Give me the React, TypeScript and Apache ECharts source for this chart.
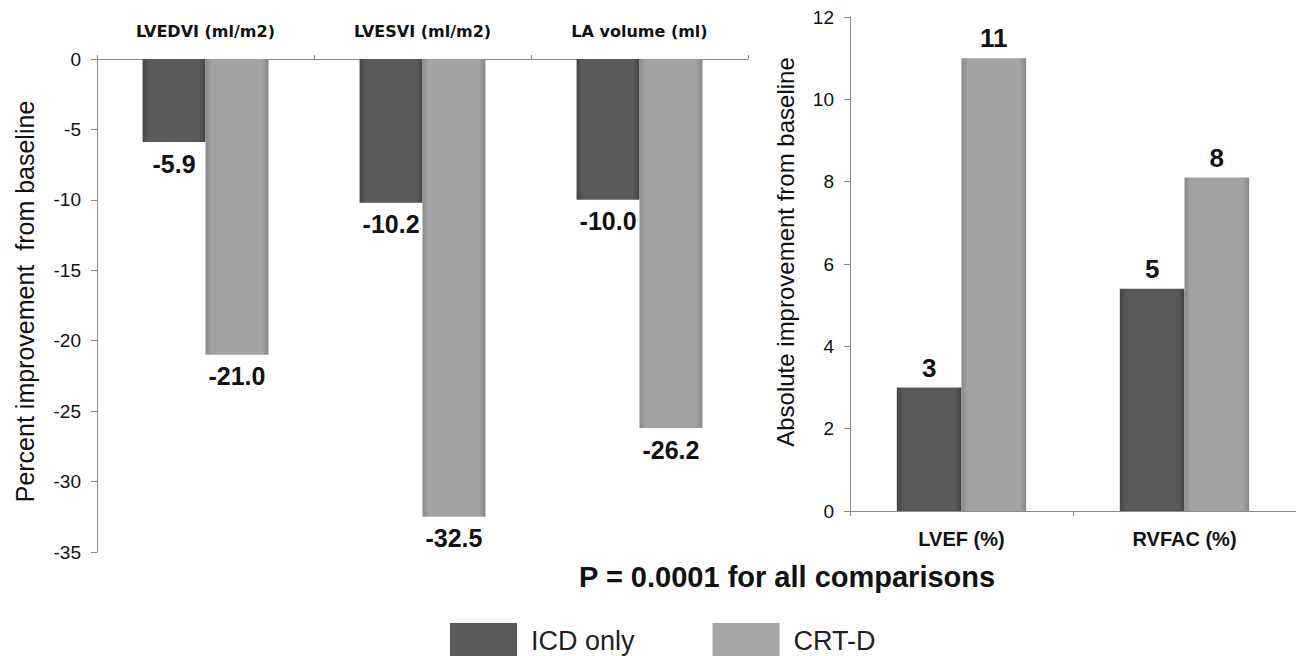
import React, { useEffect, useRef } from "react";
import * as echarts from "echarts";

// ---- Data ----
const leftCategories = ["LVEDVI (ml/m2)", "LVESVI (ml/m2)", "LA volume (ml)"];
const leftICD = [-5.9, -10.2, -10.0];
const leftCRT = [-21.0, -32.5, -26.2];

const rightCategories = ["LVEF (%)", "RVFAC (%)"];
const rightICD = [3, 5.4];
const rightCRT = [11, 8.1];

const seriesNames = ["ICD only", "CRT-D"];
const footnote = "P = 0.0001 for all comparisons";
const leftAxisName = "Percent improvement  from baseline";
const rightAxisName = "Absolute improvement from baseline";

const FONT = "'Liberation Sans', Arial, sans-serif";
const WIDE_FONT = "'DejaVu Sans', 'Liberation Sans', sans-serif";

const gradICD = new echarts.graphic.LinearGradient(0, 0, 1, 0, [
  { offset: 0, color: "#454545" },
  { offset: 0.1, color: "#5a5a5a" },
  { offset: 0.9, color: "#5a5a5a" },
  { offset: 1, color: "#434343" },
]);
const gradCRT = new echarts.graphic.LinearGradient(0, 0, 1, 0, [
  { offset: 0, color: "#8a8a8a" },
  { offset: 0.1, color: "#a3a3a3" },
  { offset: 0.9, color: "#a3a3a3" },
  { offset: 1, color: "#878787" },
]);

export default function App() {
  const ref = useRef<HTMLDivElement>(null);

  useEffect(() => {
    if (!ref.current) return;
    const chart = echarts.init(ref.current, undefined, { renderer: "svg" });

    const axisLineStyle = { color: "#8a8a8a", width: 1 };
    const valLabelLeft = {
      show: true,
      position: "bottom",
      distance: 9,
      fontSize: 25,
      fontWeight: "bold",
      fontFamily: FONT,
      color: "#111",
      formatter: (p: any) => Number(p.value).toFixed(1),
    };
    const valLabelRight = {
      show: true,
      position: "top",
      distance: 7,
      fontSize: 26,
      fontWeight: "bold",
      fontFamily: FONT,
      color: "#111",
      formatter: (p: any) => String(Math.round(Number(p.value))),
    };

    chart.setOption({
      animation: false,
      backgroundColor: "#ffffff",
      textStyle: { fontFamily: FONT },
      grid: [
        { left: 97, top: 59, width: 651, height: 493 },
        { left: 850, top: 17, width: 456, height: 494 },
      ],
      xAxis: [
        {
          type: "category",
          gridIndex: 0,
          position: "top",
          data: leftCategories,
          axisLine: { show: true, onZero: false, lineStyle: axisLineStyle },
          axisTick: { show: true, length: 4, lineStyle: axisLineStyle },
          axisLabel: {
            margin: 20,
            fontSize: 16,
            fontWeight: "bold",
            fontFamily: WIDE_FONT,
            color: "#111",
          },
          splitLine: { show: false },
        },
        {
          type: "category",
          gridIndex: 1,
          position: "bottom",
          data: rightCategories,
          axisLine: { show: true, lineStyle: axisLineStyle },
          axisTick: { show: true, length: 5, lineStyle: axisLineStyle },
          axisLabel: {
            margin: 18,
            fontSize: 20,
            fontWeight: "bold",
            fontFamily: FONT,
            color: "#111",
          },
          splitLine: { show: false },
        },
      ],
      yAxis: [
        {
          type: "value",
          gridIndex: 0,
          min: -35,
          max: 0,
          interval: 5,
          name: leftAxisName,
          nameLocation: "middle",
          nameGap: 60,
          nameTextStyle: {
            fontSize: 25,
            color: "#111",
            fontFamily: FONT,
            padding: [0, 0, 0, 8],
          },
          axisLine: { show: true, lineStyle: axisLineStyle },
          axisTick: { show: true, length: 6, lineStyle: axisLineStyle },
          axisLabel: { margin: 16, fontSize: 19, color: "#111", fontFamily: FONT },
          splitLine: { show: false },
        },
        {
          type: "value",
          gridIndex: 1,
          min: 0,
          max: 12,
          interval: 2,
          name: rightAxisName,
          nameLocation: "middle",
          nameGap: 53,
          nameTextStyle: {
            fontSize: 24,
            color: "#111",
            fontFamily: FONT,
            padding: [0, 0, 0, 24],
          },
          axisLine: { show: true, lineStyle: axisLineStyle },
          axisTick: { show: true, length: 6, lineStyle: axisLineStyle },
          axisLabel: { margin: 16, fontSize: 19, color: "#111", fontFamily: FONT },
          splitLine: { show: false },
        },
      ],
      legend: {
        left: 445,
        top: 618,
        itemWidth: 67,
        itemHeight: 36,
        itemGap: 78,
        icon: "rect",
        textStyle: {
          fontSize: 27,
          lineHeight: 26,
          color: "#222",
          fontFamily: FONT,
          padding: [0, 0, 0, 9],
        },
        data: [
          { name: seriesNames[0], itemStyle: { color: "#5a5a5a" } },
          { name: seriesNames[1], itemStyle: { color: "#a6a6a6" } },
        ],
      },
      graphic: [
        {
          type: "text",
          left: 579,
          top: 562,
          style: {
            text: footnote,
            fontSize: 29,
            fontWeight: "bold",
            fontFamily: FONT,
            fill: "#111",
          },
        },
      ],
      series: [
        {
          type: "bar",
          name: seriesNames[0],
          xAxisIndex: 0,
          yAxisIndex: 0,
          data: leftICD,
          barWidth: "29%",
          barGap: "0%",
          itemStyle: { color: gradICD },
          label: valLabelLeft,
        },
        {
          type: "bar",
          name: seriesNames[1],
          xAxisIndex: 0,
          yAxisIndex: 0,
          data: leftCRT,
          barWidth: "29%",
          barGap: "0%",
          itemStyle: { color: gradCRT },
          label: valLabelLeft,
        },
        {
          type: "bar",
          name: seriesNames[0],
          xAxisIndex: 1,
          yAxisIndex: 1,
          data: rightICD,
          barWidth: "29%",
          barGap: "0%",
          itemStyle: { color: gradICD },
          label: valLabelRight,
        },
        {
          type: "bar",
          name: seriesNames[1],
          xAxisIndex: 1,
          yAxisIndex: 1,
          data: rightCRT,
          barWidth: "29%",
          barGap: "0%",
          itemStyle: { color: gradCRT },
          label: valLabelRight,
        },
      ],
    });

    return () => chart.dispose();
  }, []);

  return (
    <div
      ref={ref}
      style={{ position: "fixed", left: 0, top: 0, width: 1296, height: 656 }}
    />
  );
}
